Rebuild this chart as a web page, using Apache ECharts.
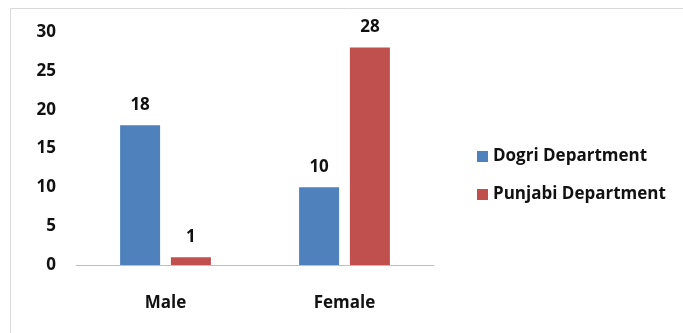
<!DOCTYPE html>
<html>
<head>
<meta charset="utf-8">
<script src="https://cdn.jsdelivr.net/npm/echarts@6/dist/echarts.min.js"></script>
<style>
  html, body { margin: 0; padding: 0; background: #fff; }
  #chart { width: 683px; height: 333px; }
</style>
</head>
<body>
<div id="chart"></div>
<script>
const categories = ['Male', 'Female']
const seriesNames = ['Dogri Department', 'Punjabi Department']
const dogri = [18, 10]
const punjabi = [1, 28]
const colors = ['#4F81BD', '#C0504D']

const font = '"Open Sans", "Liberation Sans", sans-serif'
const txt = { fontSize: 17, fontWeight: 'bold', color: '#111', fontFamily: font }

const chart = echarts.init(document.getElementById('chart'))
chart.setOption({
  animation: false,
  textStyle: { fontFamily: font },
  graphic: [
    {
      type: 'rect',
      shape: { x: 10.5, y: 8.5, width: 700, height: 340 },
      style: { fill: 'none', stroke: '#d9d9d9', lineWidth: 1 },
      silent: true
    }
  ],
  grid: { left: 76, right: 249, top: 32, bottom: 68 },
  legend: {
    orient: 'vertical',
    left: 472,
    top: 143,
    itemWidth: 11,
    itemHeight: 11,
    itemGap: 21,
    icon: 'rect',
    textStyle: Object.assign({}, txt, { fontSize: 17 }),
    data: seriesNames
  },
  xAxis: {
    type: 'category',
    data: categories,
    axisLine: { lineStyle: { color: '#bfbfbf' } },
    axisTick: { show: false },
    axisLabel: Object.assign({ margin: 30 }, txt)
  },
  yAxis: {
    type: 'value',
    min: 0,
    max: 30,
    interval: 5,
    splitLine: { show: false },
    axisLine: { show: false },
    axisTick: { show: false },
    axisLabel: Object.assign({ margin: 20 }, txt)
  },
  series: [
    {
      name: seriesNames[0],
      type: 'bar',
      data: dogri,
      barWidth: 40,
      barGap: '27%',
      itemStyle: { color: colors[0] },
      label: Object.assign({ show: true, position: 'top', distance: 12 }, txt)
    },
    {
      name: seriesNames[1],
      type: 'bar',
      data: punjabi,
      barWidth: 40,
      barGap: '27%',
      itemStyle: { color: colors[1] },
      label: Object.assign({ show: true, position: 'top', distance: 12 }, txt)
    }
  ]
})
</script>
</body>
</html>
